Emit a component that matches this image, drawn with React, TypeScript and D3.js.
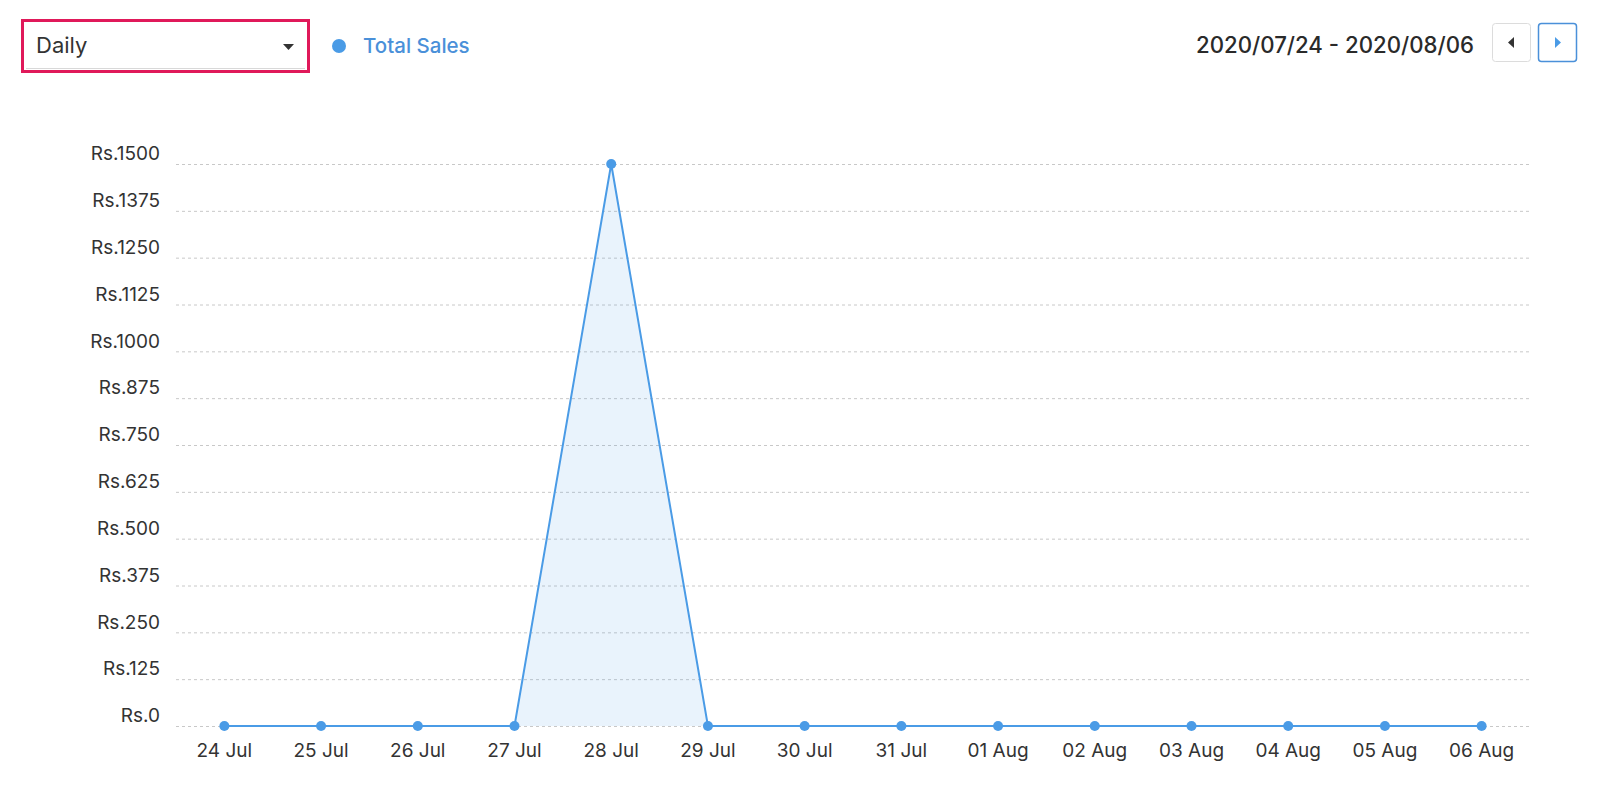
import React from "react";
import * as d3 from "d3";

const categories = ["24 Jul","25 Jul","26 Jul","27 Jul","28 Jul","29 Jul","30 Jul","31 Jul","01 Aug","02 Aug","03 Aug","04 Aug","05 Aug","06 Aug"];
const salesValues = [0,0,0,0,1500,0,0,0,0,0,0,0,0,0];
const yTicks = [0,125,250,375,500,625,750,875,1000,1125,1250,1375,1500];
const seriesName = "Total Sales";
const periodLabel = "Daily";
const dateRange = "2020/07/24 - 2020/08/06";

const W = 1600, H = 806;
const FONT = "Inter, 'Noto Sans', sans-serif";
const BLUE = "#4a9be6";

export default function App() {
  const x = d3.scalePoint<string>().domain(categories).range([176, 1530]).padding(0.5);
  const y = d3.scaleLinear().domain([0, 1500]).range([726, 164]);
  const pts = categories.map((c, i) => [x(c) as number, salesValues[i]] as [number, number]);
  const line = d3.line<[number, number]>().x(d => d[0]).y(d => y(d[1]));
  const area = d3.area<[number, number]>().x(d => d[0]).y0(y(0)).y1(d => y(d[1]));

  return (
    <svg width={W} height={H} style={{ position: "absolute", left: 0, top: 0, background: "#fff" }} fontFamily={FONT}>
      {/* dropdown */}
      <rect x={22.5} y={20.5} width={286} height={51} fill="#fff" stroke="#e0195a" strokeWidth={3} />
      <line x1={26} x2={305} y1={68.5} y2={68.5} stroke="#d8d8d8" strokeWidth={1} />
      <text x={36} y={53} fontSize={22} fill="#333">{periodLabel}</text>
      <path d="M283,44 L294,44 L288.5,50 Z" fill="#333" />
      {/* legend */}
      <circle cx={339} cy={46} r={7} fill={BLUE} />
      <text x={363} y={53} fontSize={20.5} fill="#4a90d9" fontWeight={500}>{seriesName}</text>
      {/* date range */}
      <text x={1474} y={53} fontSize={22.2} fill="#2a2a2a" fontWeight={500} textAnchor="end">{dateRange}</text>
      <rect x={1492.5} y={23.5} width={38} height={38} rx={3} fill="#fff" stroke="#dcdcdc" />
      <path d="M1508,42.5 L1514,37 L1514,48 Z" fill="#333" />
      <rect x={1538.5} y={23.5} width={38} height={38} rx={3} fill="#fff" stroke="#4a90d9" strokeWidth={1.5} />
      <path d="M1561,42.5 L1555,37 L1555,48 Z" fill={BLUE} />
      {/* grid + y labels */}
      {yTicks.map(t => (
        <g key={t}>
          <line x1={176} x2={1530} y1={y(t) + 0.5} y2={y(t) + 0.5} stroke="#c8c8c8" strokeDasharray="3,3" strokeWidth={1} />
          <text x={160} y={y(t) - 9} fontSize={19} fill="#333" textAnchor="end" dominantBaseline="middle">{"Rs." + t}</text>
        </g>
      ))}
      {/* area + line */}
      <path d={area(pts) || ""} fill={BLUE} fillOpacity={0.12} />
      <path d={line(pts) || ""} fill="none" stroke={BLUE} strokeWidth={2} />
      {pts.map((p, i) => (
        <circle key={i} cx={p[0]} cy={y(p[1])} r={5} fill={BLUE} />
      ))}
      {/* x labels */}
      {categories.map(c => (
        <text key={c} x={x(c) as number} y={757} fontSize={19} fill="#333" textAnchor="middle">{c}</text>
      ))}
    </svg>
  );
}
